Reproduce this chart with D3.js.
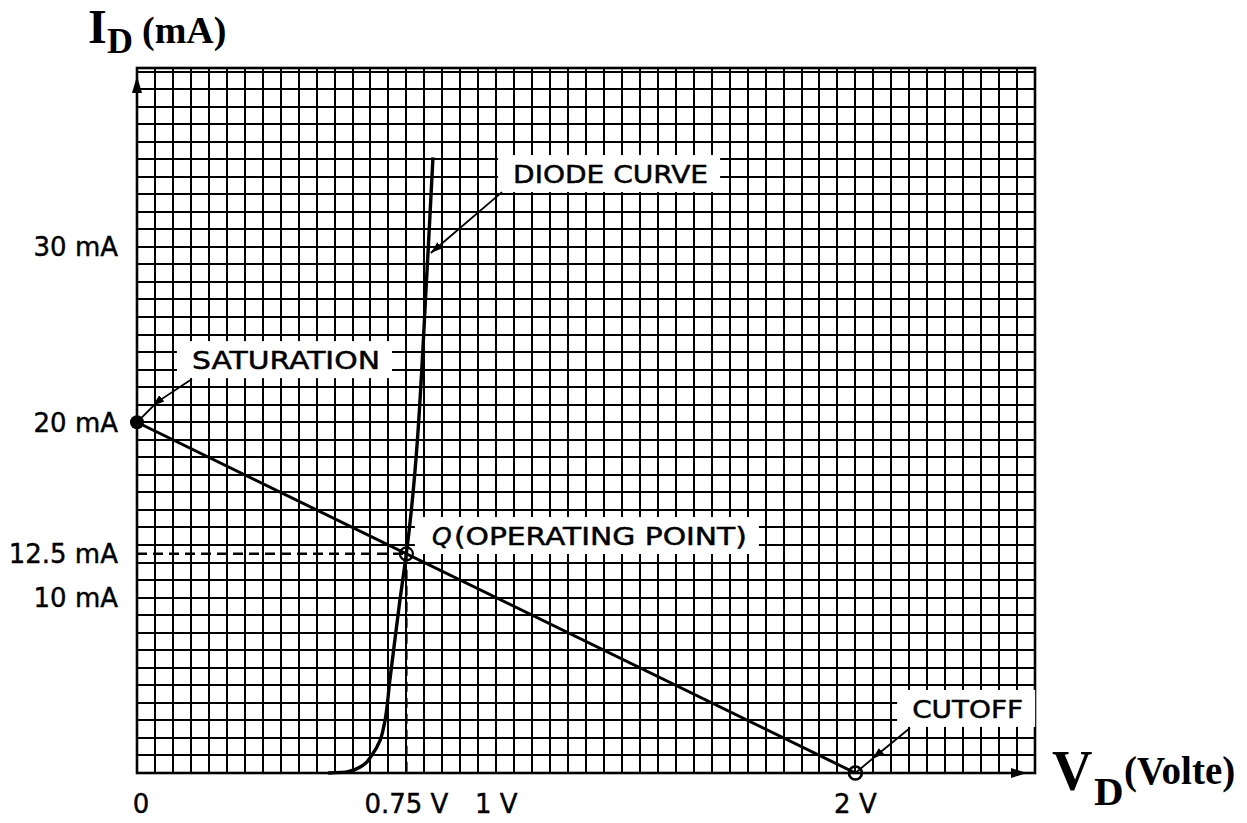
<!DOCTYPE html>
<html><head><meta charset="utf-8">
<script src="https://cdn.jsdelivr.net/npm/d3@7"></script>
<style>html,body{margin:0;padding:0;background:#fff;} svg{display:block;}</style>
</head><body>
<svg id="chart" width="1247" height="823"></svg>
<script>
// ---------- data ----------
const xDomain = [0, 2.5];      // V_D (volts)
const yDomain = [0, 40.2];     // I_D (mA)
const xGridStep = 0.05;
const yGridStep = 1;
const xTickValues = [0, 0.75, 1, 2];
const xTickLabels = ["0", "0.75 V", "1 V", "2 V"];
const yTickValues = [30, 20, 12.5, 10];
const yTickLabels = ["30 mA", "20 mA", "12.5 mA", "10 mA"];
const diodeV = [0.532, 0.585, 0.626, 0.654, 0.677, 0.688, 0.704, 0.732, 0.749, 0.810, 0.824];
const diodeI = [0, 0.06, 0.40, 1.03, 1.88, 2.74, 5.30, 9.86, 12.37, 29.6, 35.1];
const loadV = [0, 2];
const loadI = [20, 0];
const qPoint = [0.75, 12.5];
const satPoint = [0, 20];
const cutPoint = [2, 0];
const annTexts = ["SATURATION", "DIODE CURVE", "(OPERATING POINT)", "CUTOFF"];
const annV = [0.153, 1.047, 0.821, 2.158];
const annI = [23.03, 33.64, 13.0, 3.14];
// leader lines: [fromV, fromI, midV, midI, toV, toI]
const leaders = [
  [0.153, 22.46, 0.056, 21.15, 0, 20],
  [1.016, 33.12, 0.835, 29.95, 0.818, 29.65],
  [2.152, 2.57, 2.060, 1.03, 2, 0]
];

// ---------- layout ----------
const svg = d3.select("#chart");
const x = d3.scaleLinear().domain(xDomain).range([137, 1035]);
const y = d3.scaleLinear().domain(yDomain).range([773, 68]);

const defs = svg.append("defs");
defs.append("marker").attr("id","arrMid").attr("viewBox","0 -5 12 10")
  .attr("refX",6).attr("refY",0).attr("markerWidth",12).attr("markerHeight",10)
  .attr("markerUnits","userSpaceOnUse").attr("orient","auto")
  .append("path").attr("d","M0,-4L12,0L0,4Z").attr("fill","#000");
defs.append("marker").attr("id","arrEnd").attr("viewBox","0 -5 12 10")
  .attr("refX",12).attr("refY",0).attr("markerWidth",12).attr("markerHeight",10)
  .attr("markerUnits","userSpaceOnUse").attr("orient","auto")
  .append("path").attr("d","M0,-4L12,0L0,4Z").attr("fill","#000");

// grid
const g = svg.append("g");
const xs = d3.range(xDomain[0], xDomain[1] + 1e-9, xGridStep);
const ys = d3.range(yDomain[0], 40 + 1e-9, yGridStep);
g.selectAll("line.vx").data(xs).join("line")
  .attr("x1", d => Math.round(x(d))).attr("x2", d => Math.round(x(d)))
  .attr("y1", y(yDomain[1])).attr("y2", y(0))
  .attr("stroke", "#000").attr("stroke-width", 2);
g.selectAll("line.hy").data(ys).join("line")
  .attr("y1", d => Math.round(y(d))).attr("y2", d => Math.round(y(d)))
  .attr("x1", x(0)).attr("x2", x(xDomain[1]))
  .attr("stroke", "#000").attr("stroke-width", 2);
// frame
g.append("rect").attr("x", x(0)).attr("y", y(yDomain[1]))
  .attr("width", x(xDomain[1]) - x(0)).attr("height", y(0) - y(yDomain[1]))
  .attr("fill","none").attr("stroke","#000").attr("stroke-width",2.6);

// axis arrows
svg.append("path").attr("d", `M${x(0)},${y(yDomain[1])+8} L${x(0)-5},${y(yDomain[1])+25} L${x(0)+5},${y(yDomain[1])+25} Z`).attr("fill","#000");
svg.append("path").attr("d", `M${x(xDomain[1])-8},${y(0)} L${x(xDomain[1])-24},${y(0)-5} L${x(xDomain[1])-24},${y(0)+5} Z`).attr("fill","#000");

// annotation boxes + text
const annFont = "'DejaVu Sans', sans-serif";
const annWidths = [188, 195, 293, 111];
annTexts.forEach((t, i) => {
  const tx = x(annV[i]), ty = y(annI[i]);
  const isQ = i === 2;
  const left = isQ ? tx - 17 : tx - 15;
  const right = tx + annWidths[i] + 12 + (isQ ? 22 : 0);
  svg.append("rect").attr("x", left).attr("y", ty - 28)
    .attr("width", right - left).attr("height", 37).attr("fill", "#fff");
  if (isQ) {
    svg.append("text").attr("x", tx).attr("y", ty)
      .attr("font-family", annFont).attr("font-size", 25).attr("font-style","italic")
      .attr("fill","#000").attr("stroke","#000").attr("stroke-width",0.5).text("Q");
  }
  svg.append("text").attr("x", tx + (isQ ? 22 : 0)).attr("y", ty)
    .attr("font-family", annFont).attr("font-size", 25)
    .attr("textLength", annWidths[i]).attr("lengthAdjust","spacingAndGlyphs")
    .attr("fill","#000").attr("stroke","#000").attr("stroke-width",0.5).text(t);
});

// leader lines
leaders.forEach((L, i) => {
  const pts = [[x(L[0]), y(L[1])], [x(L[2]), y(L[3])], [x(L[4]), y(L[5])]];
  const p = svg.append("path").attr("d", d3.line()(pts))
    .attr("fill","none").attr("stroke","#000").attr("stroke-width",1.8);
  if (i === 1) p.attr("marker-end","url(#arrEnd)");
  else p.attr("marker-mid","url(#arrMid)");
});

// dashed projection lines
svg.append("line").attr("x1", x(0)).attr("x2", x(qPoint[0]))
  .attr("y1", y(qPoint[1])).attr("y2", y(qPoint[1]))
  .attr("stroke","#000").attr("stroke-width",2.4).attr("stroke-dasharray","10,6");
svg.append("line").attr("x1", x(qPoint[0])).attr("x2", x(qPoint[0]))
  .attr("y1", y(qPoint[1])).attr("y2", y(0))
  .attr("stroke","#000").attr("stroke-width",2.4).attr("stroke-dasharray","10,6");

// load line
svg.append("path").attr("d", d3.line()(loadV.map((v,i)=>[x(v), y(loadI[i])])))
  .attr("fill","none").attr("stroke","#000").attr("stroke-width",3);

// diode curve
svg.append("path")
  .attr("d", d3.line().curve(d3.curveMonotoneY)(diodeV.map((v,i)=>[x(v), y(diodeI[i])])))
  .attr("fill","none").attr("stroke","#000").attr("stroke-width",3.4);

// points
svg.append("circle").attr("cx", x(satPoint[0])).attr("cy", y(satPoint[1])).attr("r", 7)
  .attr("fill","#000");
svg.append("circle").attr("cx", x(qPoint[0])).attr("cy", y(qPoint[1])).attr("r", 6.5)
  .attr("fill","none").attr("stroke","#000").attr("stroke-width",2.2);
svg.append("circle").attr("cx", x(cutPoint[0])).attr("cy", y(cutPoint[1])).attr("r", 6.5)
  .attr("fill","none").attr("stroke","#000").attr("stroke-width",2.6);

// tick labels
const tickFont = "'DejaVu Sans', sans-serif";
svg.selectAll("text.yt").data(yTickValues).join("text")
  .attr("x", 118).attr("y", d => y(d)).attr("dy","0.36em")
  .attr("text-anchor","end").attr("font-family", tickFont).attr("font-size", 26)
  .attr("fill","#000").attr("stroke","#000").attr("stroke-width",0.4)
  .text((d,i) => yTickLabels[i]);
svg.selectAll("text.xt").data(xTickValues).join("text")
  .attr("x", d => x(d) + (d === 0 ? 4 : 0)).attr("y", 813)
  .attr("text-anchor","middle").attr("font-family", tickFont).attr("font-size", 26)
  .attr("fill","#000").attr("stroke","#000").attr("stroke-width",0.4)
  .text((d,i) => xTickLabels[i]);

// axis titles
const serif = "'Liberation Serif', 'Times New Roman', serif";
const yt = svg.append("text").attr("font-family", serif).attr("font-weight","bold").attr("fill","#000");
yt.append("tspan").attr("x", 88).attr("y", 43).attr("font-size", 48).text("I");
yt.append("tspan").attr("x", 107).attr("y", 53).attr("font-size", 36).text("D");
yt.append("tspan").attr("x", 142).attr("y", 43).attr("font-size", 38).text("(mA)");
const xt = svg.append("text").attr("font-family", serif).attr("font-weight","bold").attr("fill","#000");
xt.append("tspan").attr("x", 1052).attr("y", 790).attr("font-size", 56).text("V");
xt.append("tspan").attr("x", 1094).attr("y", 805).attr("font-size", 41).text("D");
xt.append("tspan").attr("x", 1124).attr("y", 784).attr("font-size", 39).text("(Volte)");
</script>
</body></html>
